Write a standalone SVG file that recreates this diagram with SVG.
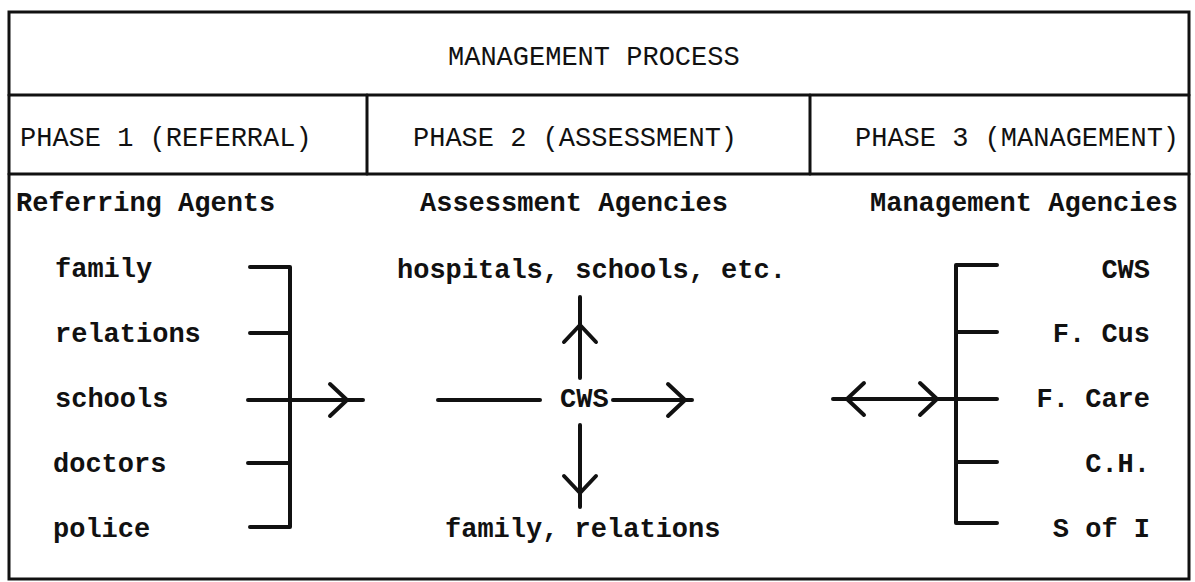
<svg xmlns="http://www.w3.org/2000/svg" width="1195" height="582" viewBox="0 0 1195 582">
<style>
  .frame{fill:none;stroke:#111;stroke-width:3;stroke-linecap:round}
  .ln{fill:none;stroke:#111;stroke-width:4;stroke-linecap:round;stroke-linejoin:round}
  .hd{font-family:"Liberation Mono","DejaVu Sans Mono",monospace;font-size:27px;fill:#111}
  .tx{font-family:"Liberation Mono","DejaVu Sans Mono",monospace;font-size:27px;font-weight:bold;fill:#111}
  .end{text-anchor:end}
</style>
<defs>
  <path id="chev" class="ln" d="M-17,-16 L0,0 L-17,16"/>
</defs>
<rect width="1195" height="582" fill="#fff"/>
<g id="frame">
  <rect class="frame" x="9" y="12" width="1180" height="567"/>
  <line class="frame" x1="9" y1="95" x2="1189" y2="95"/>
  <line class="frame" x1="9" y1="174" x2="1189" y2="174"/>
  <line class="frame" x1="367" y1="95" x2="367" y2="174"/>
  <line class="frame" x1="810" y1="95" x2="810" y2="174"/>
</g>
<g id="title"><text class="hd" x="448" y="65">MANAGEMENT PROCESS</text></g>
<g id="phase1"><text class="hd" x="20" y="146">PHASE 1 (REFERRAL)</text></g>
<g id="phase2"><text class="hd" x="413" y="146">PHASE 2 (ASSESSMENT)</text></g>
<g id="phase3"><text class="hd" x="855" y="146">PHASE 3 (MANAGEMENT)</text></g>
<g id="referring-agents">
  <text class="tx" x="16" y="211">Referring Agents</text>
  <text class="tx" x="55" y="277">family</text>
  <text class="tx" x="55" y="342">relations</text>
  <text class="tx" x="55" y="407">schools</text>
  <text class="tx" x="53" y="472">doctors</text>
  <text class="tx" x="53" y="537">police</text>
</g>
<g id="assessment-agencies">
  <text class="tx" x="420" y="211">Assessment Agencies</text>
  <text class="tx" x="397" y="278">hospitals, schools, etc.</text>
  <text class="tx" x="560" y="407">CWS</text>
  <text class="tx" x="445" y="537">family, relations</text>
</g>
<g id="management-agencies">
  <text class="tx" x="870" y="211">Management Agencies</text>
  <text class="tx end" x="1150" y="278">CWS</text>
  <text class="tx end" x="1150" y="342">F. Cus</text>
  <text class="tx end" x="1150" y="407">F. Care</text>
  <text class="tx end" x="1150" y="472">C.H.</text>
  <text class="tx end" x="1150" y="537">S of I</text>
</g>
<g id="connectors">
  <path class="ln" d="M250,267 H290 V527 H250 M250,333 H290 M248,400 H290 M248,463 H290"/>
  <path class="ln" d="M290,400 H363"/>
  <use href="#chev" transform="translate(347,400)"/>
  <path class="ln" d="M438,400 H540"/>
  <path class="ln" d="M613,400 H692"/>
  <use href="#chev" transform="translate(685,400)"/>
  <path class="ln" d="M580,378 V297"/>
  <use href="#chev" transform="translate(580,325) rotate(-90)"/>
  <path class="ln" d="M580,425 V507"/>
  <use href="#chev" transform="translate(580,493) rotate(90)"/>
  <path class="ln" d="M997,265 H956 V523 H997 M956,332 H997 M956,399 H997 M956,462 H997"/>
  <path class="ln" d="M833,399 H956"/>
  <use href="#chev" transform="translate(847,399) rotate(180)"/>
  <use href="#chev" transform="translate(937,399)"/>
</g>
</svg>
